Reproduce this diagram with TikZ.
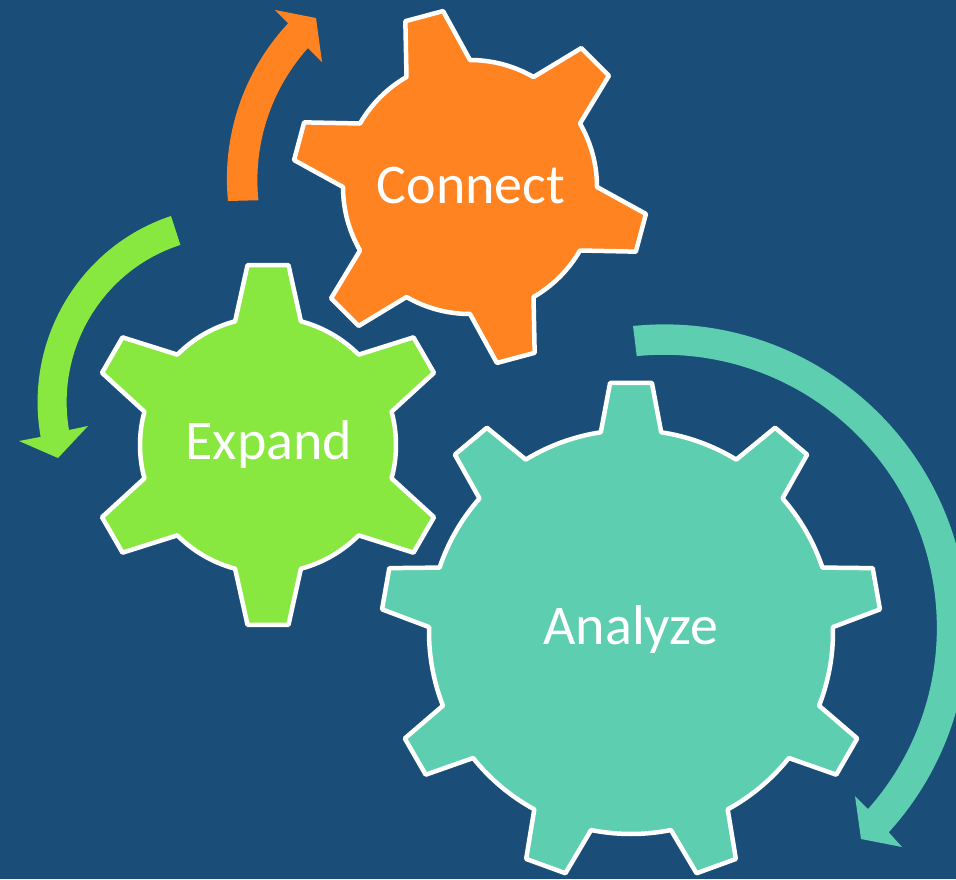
\documentclass[tikz,border=0pt]{standalone}
\usepackage{fontspec}
\setmainfont{Carlito}
\definecolor{bgblue}{HTML}{1A4E79}
\definecolor{connectcol}{HTML}{FF8421}
\definecolor{expandcol}{HTML}{88E83F}
\definecolor{analyzecol}{HTML}{5DCEB0}

% x, y, first tooth, teeth, root r, tip r, root half angle, tip half angle, style
\newcommand{\gear}[9]{%
  \begin{scope}[shift={(#1,#2)}]
    \draw[#9] ({#3-#7}:#5)
      \foreach \k [evaluate=\k as \a using {#3+\k*360/#4}] in {1,...,#4} {
        -- ({\a-360/#4-#7}:#5) -- ({\a-360/#4-#8}:#6) -- ({\a-360/#4+#8}:#6) -- ({\a-360/#4+#7}:#5)
        arc[start angle={\a-360/#4+#7}, end angle={\a-#7}, radius=#5]
      } -- cycle;
  \end{scope}}

\begin{document}
\begin{tikzpicture}[x=1pt,y=1pt,yscale=-1,line join=round,
                    gearbase/.style={draw=white,line width=4.5pt},
                    label/.style={text=white,font=\fontsize{56}{60}\selectfont,inner sep=0pt}]

  \clip (0,0) rectangle (956,879);
  \fill[bgblue] (0,0) rectangle (956,879);

  % gears
  \gear{470}{187}{-105}{6}{127}{178}{15}{6.3}{gearbase,fill=connectcol}
  \gear{268}{445}{-90}{6}{128}{181}{14.9}{6.5}{gearbase,fill=expandcol}
  \gear{631}{632}{-90}{9}{202}{250}{8.6}{4.8}{gearbase,fill=analyzecol}

  \node[label] (connect) at (471,186) {Connect};
  \node[label] (expand)  at (269,445) {Expand};
  \node[label] (analyze) at (631,630) {Analyze};

  % sweeping arrows
  \fill[connectcol] (228,201) arc[start angle=174.4, end angle=223, radius=228]
    -- (275,10) -- (316,18) -- (322,62) -- (308,48)
    arc[start angle=221.9, end angle=174.2, radius=198] -- cycle;
  \fill[expandcol] (171,216) arc[start angle=251.8, end angle=169.8, x radius=194, y radius=196]
    -- (19,441) -- (58,458) -- (88,426) -- (69,430)
    arc[start angle=170.3, end angle=252.4, x radius=163, y radius=165] -- cycle;
  \fill[analyzecol] (633,326) arc[start angle=-95.9, end angle=42.3, radius=303.6]
    -- (902,847) -- (861,839) -- (855,796) -- (868,809)
    arc[start angle=41.6, end angle=-95.7, radius=273] -- cycle;
\end{tikzpicture}
\end{document}
